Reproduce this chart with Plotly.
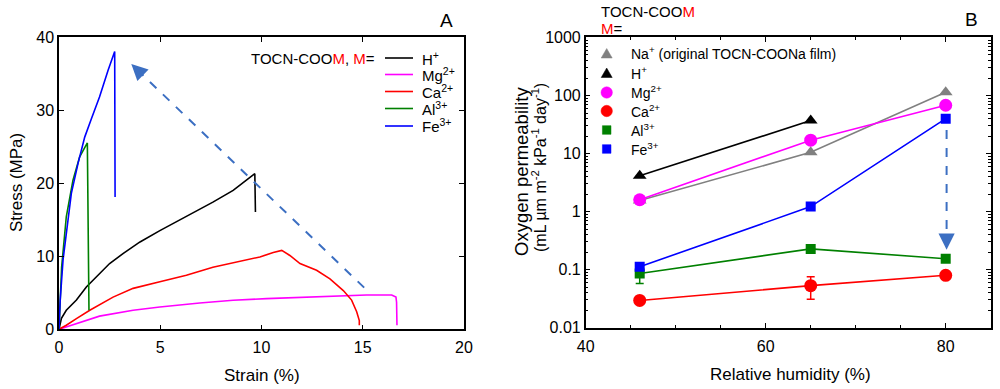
import math
import plotly.graph_objects as go

# ---------------- Panel A data (stress-strain) ----------------
h_strain = [0, 0.12, 0.36, 0.86, 1.35, 2.0, 2.5, 3.16, 4.0, 4.98, 6.29, 7.6, 8.6, 9.26, 9.59, 9.67, 9.7]
h_stress = [0, 1.5, 2.6, 4.0, 5.8, 7.6, 9.0, 10.35, 11.95, 13.5, 15.4, 17.4, 19.0, 20.4, 21.2, 21.3, 16.05]

mg_strain = [0, 0.86, 2.0, 3.66, 4.98, 6.95, 8.6, 10.25, 11.9, 13.54, 15.19, 16.43, 16.64, 16.67, 16.69]
mg_stress = [0, 0.8, 1.8, 2.6, 3.05, 3.6, 3.97, 4.2, 4.4, 4.6, 4.7, 4.7, 4.4, 3.7, 0.55]

ca_strain = [0, 0.36, 0.86, 1.52, 2.67, 3.66, 4.98, 6.29, 7.6, 8.93, 9.92, 10.58, 11.0, 11.4, 11.9, 12.72,
             13.38, 14.04, 14.45, 14.7, 14.83, 14.83]
ca_stress = [0, 0.55, 1.46, 2.6, 4.4, 5.6, 6.5, 7.4, 8.5, 9.3, 9.9, 10.5, 10.8, 10.1, 9.0, 8.07,
             6.9, 5.3, 4.0, 2.4, 1.2, 0.55]

al_strain = [0, 0.13, 0.36, 0.69, 1.02, 1.4, 1.48]
al_stress = [0, 8.5, 15.4, 20.4, 23.6, 25.5, 2.6]

fe_strain = [0, 0.06, 0.2, 0.36, 0.61, 0.94, 1.27, 1.6, 2.0, 2.42, 2.75, 2.77]
fe_stress = [0, 4.0, 9.5, 13.0, 18.6, 22.7, 26.3, 28.8, 31.8, 35.4, 38.0, 18.1]

arrow_a_strain = [15.07, 3.57]
arrow_a_stress = [5.7, 36.3]

# ---------------- Panel B data (oxygen permeability) ----------------
rh = [46, 65, 80]
rh_h = [46, 65]
na_perm = [1.55, 10.5, 114]
h_perm = [4.15, 37]
mg_perm = [1.6, 17, 68]
ca_perm = [0.0295, 0.053, 0.080]
ca_err_plus = [0, 0.0227, 0]
ca_err_minus = [0, 0.0222, 0]
al_perm = [0.086, 0.228, 0.154]
al_err_plus = [0.02, 0.02, 0.008]
al_err_minus = [0.028, 0.02, 0.008]
fe_perm = [0.112, 1.22, 40]
fe_err = [0.012, 0.1, 2]

arrow_b_rh = [80.1, 80.1]
arrow_b_perm = [25.5, 0.22]

BLACK = "#000000"
MAGENTA = "#ff00ff"
RED = "#ff0000"
GREEN = "#008000"
BLUE = "#0000ff"
GRAY = "#808080"
ARROW = "#3c6fc2"
FONT = "Arial, Liberation Sans, sans-serif"

W, H = 1000, 389


def px(x):
    return x / W


def py(y):
    return 1 - y / H


fig = go.Figure()

# Panel A curves
for xs, ys, c in [(mg_strain, mg_stress, MAGENTA), (ca_strain, ca_stress, RED),
                  (h_strain, h_stress, BLACK), (al_strain, al_stress, GREEN),
                  (fe_strain, fe_stress, BLUE)]:
    fig.add_trace(go.Scatter(x=xs, y=ys, mode="lines", line=dict(color=c, width=1.6),
                             xaxis="x", yaxis="y", showlegend=False, hoverinfo="skip"))

fig.add_trace(go.Scatter(x=arrow_a_strain, y=arrow_a_stress, mode="lines",
                         line=dict(color=ARROW, width=2, dash="dash"),
                         xaxis="x", yaxis="y", showlegend=False, hoverinfo="skip"))


# Panel B series
def series_b(xs, ys, color, symbol, size, err=None):
    kw = {}
    if err is not None:
        kw["error_y"] = dict(type="data", array=err[0], arrayminus=err[1], color=color,
                             thickness=1.5, width=4)
    fig.add_trace(go.Scatter(x=xs, y=ys, mode="lines+markers",
                             line=dict(color=color, width=1.6),
                             marker=dict(color=color, symbol=symbol, size=size),
                             xaxis="x2", yaxis="y2", showlegend=False, hoverinfo="skip", **kw))


series_b(rh, na_perm, GRAY, "triangle-up", 12)
series_b(rh_h, h_perm, BLACK, "triangle-up", 12)
series_b(rh, mg_perm, MAGENTA, "circle", 13)
series_b(rh, ca_perm, RED, "circle", 13, (ca_err_plus, ca_err_minus))
series_b(rh, al_perm, GREEN, "square", 10, (al_err_plus, al_err_minus))
series_b(rh, fe_perm, BLUE, "square", 10, (fe_err, fe_err))

fig.add_trace(go.Scatter(x=arrow_b_rh, y=arrow_b_perm, mode="lines",
                         line=dict(color=ARROW, width=2, dash="dash"),
                         xaxis="x2", yaxis="y2", showlegend=False, hoverinfo="skip"))

axis_common = dict(showline=True, linecolor="black", linewidth=1.5, mirror="ticks",
                   ticks="inside", ticklen=5, tickwidth=1.2, tickcolor="black",
                   showgrid=False, zeroline=False, automargin=False,
                   tickfont=dict(family=FONT, size=16, color="black"))

minor_log = [m * 10 ** e for e in range(-2, 3) for m in range(2, 10)]

fig.update_layout(
    width=W, height=H, margin=dict(l=0, r=0, t=0, b=0, autoexpand=False),
    paper_bgcolor="white", plot_bgcolor="white",
    font=dict(family=FONT, size=15, color="black"),
    xaxis=dict(domain=[0.059, 0.464], range=[0, 20], tickvals=[0, 5, 10, 15, 20],
               anchor="y", ticklabelstandoff=3, **axis_common),
    yaxis=dict(domain=[0.1535, 0.9049], range=[0, 40], tickvals=[0, 10, 20, 30, 40],
               anchor="x", **axis_common),
    xaxis2=dict(domain=[0.5857, 0.9907], range=[40, 85], tickvals=[40, 60, 80], anchor="y2",
                ticklabelstandoff=3,
                minor=dict(ticks="inside", ticklen=3, dtick=5, tick0=40, tickcolor="black"),
                **axis_common),
    yaxis2=dict(domain=[0.1576, 0.9036], type="log", range=[-2, 3],
                tickvals=[0.01, 0.1, 1, 10, 100, 1000],
                ticktext=["0.01", "0.1", "1", "10", "100", "1000"], anchor="x2",
                minor=dict(ticks="inside", ticklen=3, tickvals=minor_log, tickcolor="black"),
                **axis_common),
)

# Arrowheads
fig.add_annotation(x=arrow_a_strain[1], y=arrow_a_stress[1],
                   ax=arrow_a_strain[1] + 0.5, ay=arrow_a_stress[1] - 1.33,
                   xref="x", yref="y", axref="x", ayref="y", text="", showarrow=True,
                   arrowhead=2, arrowsize=1.8, arrowwidth=1.8, arrowcolor=ARROW)
fig.add_annotation(x=arrow_b_rh[1], y=math.log10(arrow_b_perm[1]),
                   ax=arrow_b_rh[1], ay=math.log10(arrow_b_perm[1]) + 0.12,
                   xref="x2", yref="y2", axref="x2", ayref="y2", text="", showarrow=True,
                   arrowhead=2, arrowsize=1.8, arrowwidth=1.8, arrowcolor=ARROW)

ann = []


def text(x, y, s, size=15, xanchor="left", yanchor="middle", angle=0, color="black"):
    ann.append(dict(x=px(x), y=py(y), xref="paper", yref="paper", text=s, showarrow=False,
                    xanchor=xanchor, yanchor=yanchor, textangle=angle,
                    font=dict(family=FONT, size=size, color=color)))


# Axis titles
text(262, 375, "Strain (%)", 17, xanchor="center")
text(16, 183, "Stress (MPa)", 17, xanchor="center", angle=-90)
text(790, 374, "Relative humidity (%)", 17, xanchor="center")
text(522, 172, "Oxygen permeability", 18.5, xanchor="center", angle=-90)
text(539, 168, "(mL µm m<sup>-2</sup> kPa<sup>-1</sup> day<sup>-1</sup>)", 16, xanchor="center", angle=-90)

# Panel labels
text(446, 21, "A", 19, xanchor="center")
text(971, 19, "B", 19, xanchor="center")

# Panel A legend
RED_M = "<span style='color:#ff0000'>M</span>"
text(377, 58, "TOCN-COO" + RED_M + ", " + RED_M + "=", 15, xanchor="right")
a_leg = [("H<sup>+</sup>", BLACK, 58), ("Mg<sup>2+</sup>", MAGENTA, 74.5),
         ("Ca<sup>2+</sup>", RED, 91.5), ("Al<sup>3+</sup>", GREEN, 108.5),
         ("Fe<sup>3+</sup>", BLUE, 126)]
shapes = []
for lab, c, yy in a_leg:
    shapes.append(dict(type="line", xref="paper", yref="paper", x0=px(385), x1=px(413),
                       y0=py(yy), y1=py(yy), line=dict(color=c, width=1.6)))
    text(420, yy, lab, 15)

# Panel B header & legend
text(599, 12, "TOCN-COO" + RED_M, 15)
text(599, 28, RED_M + "=", 15)

b_leg = [("Na<sup>+</sup> (original TOCN-COONa film)", GRAY, "tri", 53.5),
         ("H<sup>+</sup>", BLACK, "tri", 73),
         ("Mg<sup>2+</sup>", MAGENTA, "circ", 92.5),
         ("Ca<sup>2+</sup>", RED, "circ", 111),
         ("Al<sup>3+</sup>", GREEN, "sq", 130),
         ("Fe<sup>3+</sup>", BLUE, "sq", 149)]
cx = 606.7
for lab, c, kind, yy in b_leg:
    if kind == "tri":
        path = "M {} {} L {} {} L {} {} Z".format(px(cx - 5.5), py(yy + 4.5), px(cx + 5.5), py(yy + 4.5),
                                                  px(cx), py(yy - 5))
        shapes.append(dict(type="path", xref="paper", yref="paper", path=path,
                           fillcolor=c, line=dict(color=c, width=0.5)))
    elif kind == "circ":
        shapes.append(dict(type="circle", xref="paper", yref="paper", x0=px(cx - 5.7), x1=px(cx + 5.7),
                           y0=py(yy + 5.7), y1=py(yy - 5.7), fillcolor=c, line=dict(color=c, width=0.5)))
    else:
        shapes.append(dict(type="rect", xref="paper", yref="paper", x0=px(cx - 4.3), x1=px(cx + 4.3),
                           y0=py(yy + 4.3), y1=py(yy - 4.3), fillcolor=c, line=dict(color=c, width=0.5)))
    text(629, yy, lab, 14)

fig.update_layout(annotations=list(fig.layout.annotations) + ann, shapes=shapes)

fig.write_html("out.html", config={"displayModeBar": False},
               post_script="document.body.style.margin='0';document.body.style.overflow='hidden';")
